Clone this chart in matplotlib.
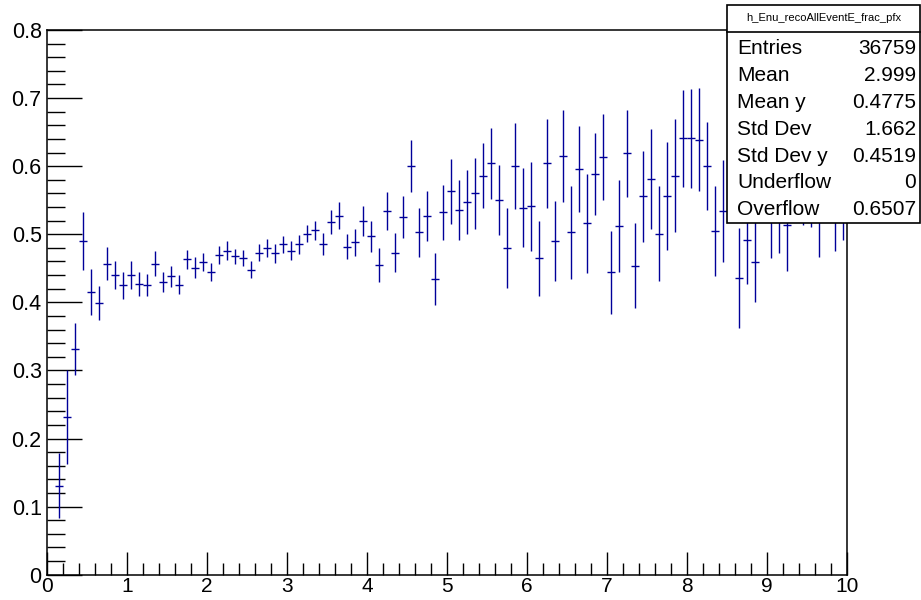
import numpy as np
import matplotlib
matplotlib.use('Agg')
import matplotlib.pyplot as plt
from matplotlib.patches import Rectangle
from matplotlib.ticker import MultipleLocator, FuncFormatter

plt.rcParams['font.family'] = ['Liberation Sans', 'DejaVu Sans']

# profile histogram: 100 bins from 0 to 10
n_bins = 100
x_lo, x_hi = 0.0, 10.0

# bin content (first bin empty)
mean_y = [np.nan,
          0.131, 0.231, 0.332, 0.490, 0.415, 0.399, 0.457, 0.440, 0.425,
          0.440, 0.427, 0.425, 0.457, 0.430, 0.438, 0.426, 0.463, 0.451, 0.459,
          0.445, 0.470, 0.476, 0.468, 0.465, 0.448, 0.473, 0.480, 0.472, 0.485,
          0.476, 0.485, 0.501, 0.506, 0.486, 0.518, 0.527, 0.482, 0.488, 0.520,
          0.497, 0.455, 0.534, 0.473, 0.525, 0.600, 0.503, 0.527, 0.434, 0.532,
          0.563, 0.535, 0.548, 0.560, 0.586, 0.604, 0.550, 0.480, 0.600, 0.539,
          0.541, 0.465, 0.604, 0.490, 0.615, 0.503, 0.596, 0.516, 0.588, 0.613,
          0.444, 0.512, 0.619, 0.454, 0.556, 0.581, 0.501, 0.556, 0.586, 0.641,
          0.641, 0.639, 0.600, 0.505, 0.534, 0.600, 0.436, 0.491, 0.459, 0.600,
          0.530, 0.545, 0.513, 0.620, 0.585, 0.580, 0.540, 0.610, 0.550, 0.560]

# error on the mean per bin
err_y = [np.nan,
         0.048, 0.069, 0.038, 0.043, 0.034, 0.025, 0.024, 0.021, 0.020,
         0.020, 0.018, 0.016, 0.018, 0.015, 0.015, 0.014, 0.014, 0.015, 0.0135,
         0.0135, 0.013, 0.0135, 0.011, 0.012, 0.012, 0.013, 0.013, 0.0135, 0.013,
         0.014, 0.0135, 0.012, 0.014, 0.016, 0.017, 0.020, 0.019, 0.020, 0.022,
         0.023, 0.025, 0.028, 0.029, 0.031, 0.038, 0.036, 0.037, 0.038, 0.041,
         0.048, 0.044, 0.047, 0.052, 0.048, 0.052, 0.051, 0.059, 0.063, 0.058,
         0.065, 0.055, 0.065, 0.059, 0.068, 0.068, 0.063, 0.073, 0.060, 0.063,
         0.061, 0.068, 0.064, 0.063, 0.067, 0.073, 0.070, 0.079, 0.083, 0.071,
         0.073, 0.076, 0.065, 0.066, 0.075, 0.075, 0.073, 0.064, 0.059, 0.070,
         0.065, 0.072, 0.067, 0.080, 0.072, 0.070, 0.073, 0.080, 0.075, 0.068]

hist_name = 'h_Enu_recoAllEventE_frac_pfx'
stat_names = ['Entries', 'Mean', 'Mean y', 'Std Dev', 'Std Dev y', 'Underflow', 'Overflow']
stat_values = ['36759', '2.999', '0.4775', '1.662', '0.4519', '0', '0.6507']

edges = np.linspace(x_lo, x_hi, n_bins + 1)
centers = 0.5 * (edges[:-1] + edges[1:])
half_w = 0.5 * (edges[1:] - edges[:-1])

fig = plt.figure(figsize=(9.21, 6.0), dpi=100)
ax = fig.add_axes([47.3 / 921, 1 - 574.7 / 600, (846.7 - 47.3) / 921, (574.7 - 30) / 600])

ax.errorbar(centers, mean_y, xerr=half_w, yerr=err_y, fmt='none',
            ecolor='#000099', elinewidth=1.0, capsize=0)

ax.set_xlim(x_lo, x_hi)
ax.set_ylim(0, 0.8)
ax.xaxis.set_major_locator(MultipleLocator(1))
ax.xaxis.set_minor_locator(MultipleLocator(0.2))
ax.yaxis.set_major_locator(MultipleLocator(0.1))
ax.yaxis.set_minor_locator(MultipleLocator(0.02))
ax.yaxis.set_major_formatter(FuncFormatter(lambda v, p: '%g' % round(v, 2)))
ax.tick_params(which='both', direction='in', top=False, right=False,
               labelsize=15.5, width=1.0, color='black')
ax.tick_params(axis='y', which='major', length=25, pad=4)
ax.tick_params(axis='y', which='minor', length=13)
ax.tick_params(axis='x', which='major', length=16.5, pad=2, labelsize=15)
ax.tick_params(axis='x', which='minor', length=8.5)
for s in ax.spines.values():
    s.set_linewidth(1.1)

# stats box
bx0, bx1 = 727 / 921, 920 / 921
by0, by1 = 1 - 223 / 600, 1 - 5 / 600
ydiv = 1 - 31.5 / 600
fig.patches.append(Rectangle((bx0, by0), bx1 - bx0, by1 - by0, transform=fig.transFigure,
                             facecolor='white', edgecolor='black', linewidth=1.2, zorder=5))
fig.lines.append(plt.Line2D([bx0, bx1], [ydiv, ydiv], transform=fig.transFigure,
                            color='black', linewidth=1.2, zorder=6))
fig.text((bx0 + bx1) / 2, 1 - 18 / 600, hist_name, ha='center', va='center',
         fontsize=8, zorder=7)
for i, (nm, val) in enumerate(zip(stat_names, stat_values)):
    yy = 1 - (48.5 + 26.9 * i) / 600
    fig.text(737 / 921, yy, nm, ha='left', va='center', fontsize=15, zorder=7)
    fig.text(916 / 921, yy, val, ha='right', va='center', fontsize=15, zorder=7)

fig.savefig('out.png', dpi=100)
